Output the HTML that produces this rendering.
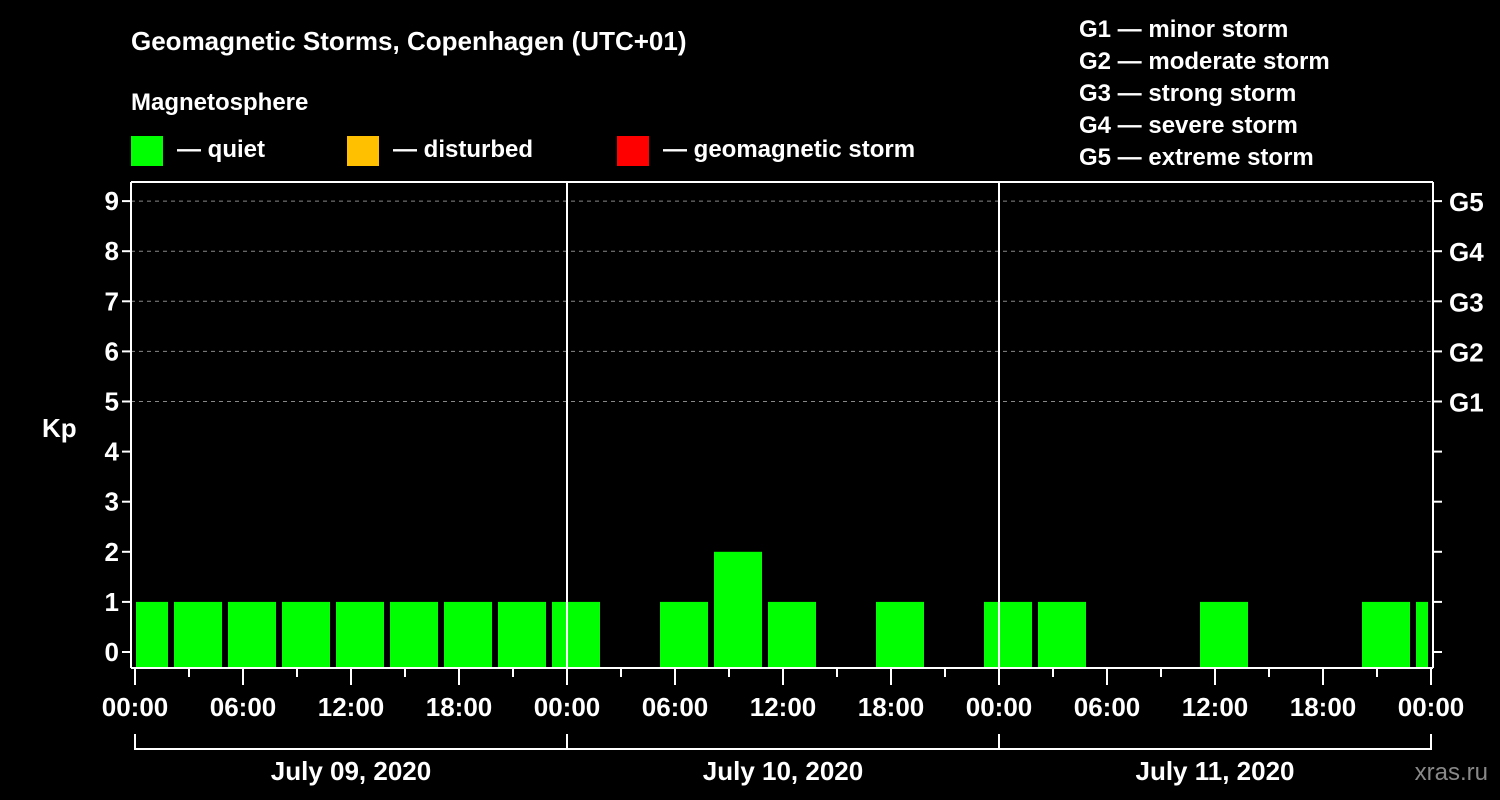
<!DOCTYPE html>
<html><head><meta charset="utf-8"><style>
html,body{margin:0;padding:0;background:#000;}
svg{display:block;font-family:"Liberation Sans",Arial,sans-serif;font-weight:bold;}
</style></head><body>
<svg id="chart" width="1500" height="800" viewBox="0 0 1500 800">
<text x="131" y="50" fill="#fff" font-size="26">Geomagnetic Storms, Copenhagen (UTC+01)</text>
<text x="131" y="110" fill="#fff" font-size="24">Magnetosphere</text>
<rect x="131" y="136" width="32" height="30" fill="#00ff00"/>
<text x="177" y="157" fill="#fff" font-size="24">— quiet</text>
<rect x="347" y="136" width="32" height="30" fill="#ffc000"/>
<text x="393" y="157" fill="#fff" font-size="24">— disturbed</text>
<rect x="617" y="136" width="32" height="30" fill="#ff0000"/>
<text x="663" y="157" fill="#fff" font-size="24">— geomagnetic storm</text>
<g fill="#fff" font-size="24">
<text x="1079" y="37">G1 — minor storm</text>
<text x="1079" y="69">G2 — moderate storm</text>
<text x="1079" y="101">G3 — strong storm</text>
<text x="1079" y="133">G4 — severe storm</text>
<text x="1079" y="165">G5 — extreme storm</text>
</g>
<text x="42" y="437" fill="#fff" font-size="26">Kp</text>
<text x="1488" y="780" fill="#888" font-size="24" text-anchor="end" font-weight="normal">xras.ru</text>
<g id="grid"></g><g id="bars"></g><g id="axes"></g>
</svg>
<script>
const kpValues=[1,1,1,1,1,1,1,1,1,0,1,2,1,0,1,0,1,1,0,0,1,0,0,1,1];
const yTicks=[0,1,2,3,4,5,6,7,8,9];
const gLabels=["G1","G2","G3","G4","G5"];
const hourLabels=["00:00","06:00","12:00","18:00"];
const dayLabels=["July 09, 2020","July 10, 2020","July 11, 2020"];
const NS="http://www.w3.org/2000/svg";
const L=131,R=1433,T=182,B=668,X0=135,DAY=432;
const y=v=>652-v*50.1;
const xh=h=>X0+h*DAY/24; // hours from first midnight
function mk(p,tag,a){const e=document.createElementNS(NS,tag);for(const k in a)e.setAttribute(k,a[k]);p.appendChild(e);return e;}
const grid=document.getElementById('grid'),bars=document.getElementById('bars'),axes=document.getElementById('axes');
yTicks.forEach(v=>{
 if(v>=5){const g=mk(grid,'line',{x1:L,x2:R,y1:y(v),y2:y(v),stroke:'#888','stroke-dasharray':'4,4','stroke-width':1});
 
 }
 const t=mk(axes,'line',{x1:L-9,x2:L,y1:y(v),y2:y(v),stroke:'#fff','stroke-width':2});
 
 
 const t2=mk(axes,'line',{x1:R,x2:R+9,y1:y(v),y2:y(v),stroke:'#fff','stroke-width':2});
 
 
 const lb=mk(axes,'text',{x:L-12,y:y(v)+9,fill:'#fff','font-size':26,'text-anchor':'end'});lb.textContent=v;
 
 
 if(v>=5){const g=mk(axes,'text',{x:1449,y:y(v)+10,fill:'#fff','font-size':26});g.textContent=gLabels[v-5];
 
 }
});
kpValues.forEach((v,i)=>{
 if(v<=0)return;
 let x1=xh(-1+3*i)+3,x2=xh(2+3*i)-3;
 x1=Math.max(x1,X0+1);x2=Math.min(x2,xh(72)-3);
 const r=mk(bars,'rect',{x:x1,y:y(v),width:x2-x1,height:B-1-y(v),fill:'#00ff00'});
 
 
});
[[L,T,L,B],[L,T,R,T],[R,T,R,B],[L,B,R,B]].forEach(c=>{const l=mk(axes,'line',{x1:c[0],y1:c[1],x2:c[2],y2:c[3],stroke:'#fff','stroke-width':2});
 
 });
for(let d=1;d<3;d++){const l=mk(axes,'line',{x1:xh(24*d),x2:xh(24*d),y1:T,y2:B,stroke:'#fff','stroke-width':2});
 
 }
for(let h=0;h<=72;h+=3){const major=h%6===0;
 const t=mk(axes,'line',{x1:xh(h),x2:xh(h),y1:B,y2:B+(major?17:9),stroke:'#fff','stroke-width':2});
 
 
 if(major){const lb=mk(axes,'text',{x:xh(h),y:716,fill:'#fff','font-size':26,'text-anchor':'middle'});lb.textContent=hourLabels[(h/6)%4];
 
 }}
const br=mk(axes,'line',{x1:xh(0),x2:xh(72),y1:749,y2:749,stroke:'#fff','stroke-width':2});


for(let d=0;d<=3;d++){const t=mk(axes,'line',{x1:xh(24*d),x2:xh(24*d),y1:734,y2:750,stroke:'#fff','stroke-width':2});
 
 }
dayLabels.forEach((s,d)=>{const lb=mk(axes,'text',{x:xh(24*d+12),y:780,fill:'#fff','font-size':26,'text-anchor':'middle'});lb.textContent=s;
 
 });
</script>
</body></html>
